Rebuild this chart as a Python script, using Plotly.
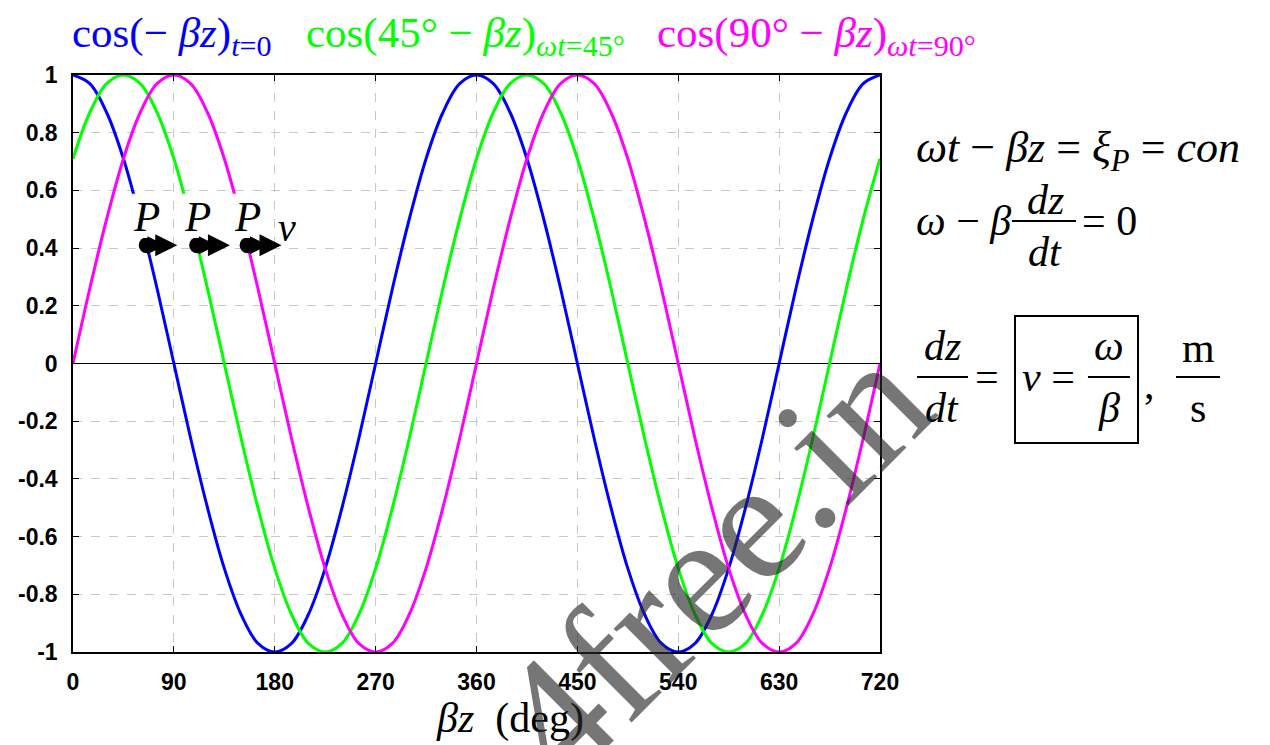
import plotly.graph_objects as go

# ---------------- data ----------------
bz_deg = [0, 15, 30, 45, 60, 75, 90, 105, 120, 135, 150, 165, 180, 195, 210, 225, 240, 255,
          270, 285, 300, 315, 330, 345, 360, 375, 390, 405, 420, 435, 450, 465, 480, 495,
          510, 525, 540, 555, 570, 585, 600, 615, 630, 645, 660, 675, 690, 705, 720]

wave_t0 = [1.00, 0.97, 0.87, 0.71, 0.50, 0.26, 0.00, -0.26, -0.50, -0.71, -0.87, -0.97,
           -1.00, -0.97, -0.87, -0.71, -0.50, -0.26, 0.00, 0.26, 0.50, 0.71, 0.87, 0.97,
           1.00, 0.97, 0.87, 0.71, 0.50, 0.26, 0.00, -0.26, -0.50, -0.71, -0.87, -0.97,
           -1.00, -0.97, -0.87, -0.71, -0.50, -0.26, 0.00, 0.26, 0.50, 0.71, 0.87, 0.97, 1.00]

wave_t45 = [0.71, 0.87, 0.97, 1.00, 0.97, 0.87, 0.71, 0.50, 0.26, 0.00, -0.26, -0.50,
            -0.71, -0.87, -0.97, -1.00, -0.97, -0.87, -0.71, -0.50, -0.26, 0.00, 0.26, 0.50,
            0.71, 0.87, 0.97, 1.00, 0.97, 0.87, 0.71, 0.50, 0.26, 0.00, -0.26, -0.50,
            -0.71, -0.87, -0.97, -1.00, -0.97, -0.87, -0.71, -0.50, -0.26, 0.00, 0.26, 0.50, 0.71]

wave_t90 = [0.00, 0.26, 0.50, 0.71, 0.87, 0.97, 1.00, 0.97, 0.87, 0.71, 0.50, 0.26,
            0.00, -0.26, -0.50, -0.71, -0.87, -0.97, -1.00, -0.97, -0.87, -0.71, -0.50, -0.26,
            0.00, 0.26, 0.50, 0.71, 0.87, 0.97, 1.00, 0.97, 0.87, 0.71, 0.50, 0.26,
            0.00, -0.26, -0.50, -0.71, -0.87, -0.97, -1.00, -0.97, -0.87, -0.71, -0.50, -0.26, 0.00]

# constant-phase point P on each wave and where its arrow points
p_x = [65.8, 110.8, 155.8]
p_y = [0.41, 0.41, 0.41]
p_arrow_end = [93, 140, 186]

x_tickvals = [0, 90, 180, 270, 360, 450, 540, 630, 720]
x_ticktext = ["0", "90", "180", "270", "360", "450", "540", "630", "720"]
y_tickvals = [-1, -0.8, -0.6, -0.4, -0.2, 0, 0.2, 0.4, 0.6, 0.8, 1]
y_ticktext = ["-1", "-0.8", "-0.6", "-0.4", "-0.2", "0", "0.2", "0.4", "0.6", "0.8", "1"]

# ---------------- layout geometry ----------------
OFF = 8                      # page body margin
W, H = 1270 - OFF, 745 - OFF
L, R, T, B = 65, 390, 67, 93
PW, PH = W - L - R, H - T - B


def px(x):                   # screen x -> paper
    return (x - OFF - L) / PW


def py(y):                   # screen y -> paper
    return (H - B - (y - OFF)) / PH


SERIF = "Liberation Serif, Times New Roman, serif"
TICKFONT = dict(family="Liberation Sans, Arial", size=23, color="black", weight="bold")
NB = "\u00a0"   # non-breaking space

BLUE, GREEN, MAGENTA = "#0000ff", "#00ff00", "#ff00ff"

fig = go.Figure()
for ys, col in [(wave_t0, BLUE), (wave_t45, GREEN), (wave_t90, MAGENTA)]:
    fig.add_trace(go.Scatter(x=bz_deg, y=ys, mode="lines",
                             line=dict(color=col, width=3, shape="spline", smoothing=1.0),
                             showlegend=False, hoverinfo="skip"))

fig.add_trace(go.Scatter(x=p_x, y=p_y, mode="markers",
                         marker=dict(color="black", size=16), showlegend=False,
                         hoverinfo="skip", cliponaxis=False))

shapes = []
annotations = []

# white boxes behind the P labels (cover the curves there)
for xc in p_x:
    shapes.append(dict(type="rect", xref="x", yref="y", x0=xc - 13, x1=xc + 13,
                       y0=0.435, y1=0.588, fillcolor="white", line=dict(width=0),
                       layer="above"))

for xc, yc, xe in zip(p_x, p_y, p_arrow_end):
    annotations.append(dict(x=xc, y=yc + 0.1, xref="x", yref="y", text="<i>P</i>",
                            showarrow=False, font=dict(family=SERIF, size=43, color="black"),
                            xanchor="center", yanchor="middle"))
    annotations.append(dict(x=xe, y=yc, ax=xc, ay=yc, xref="x", yref="y", axref="x", ayref="y",
                            text="", showarrow=True, arrowhead=2, arrowsize=1.1,
                            arrowwidth=4, arrowcolor="black"))
    annotations.append(dict(x=(xc + xe) / 2 + 3, y=yc, ax=xc, ay=yc, xref="x", yref="y",
                            axref="x", ayref="y", text="", showarrow=True, arrowhead=2,
                            arrowsize=0.9, arrowwidth=4, arrowcolor="black"))

annotations.append(dict(x=p_arrow_end[-1] + 5, y=0.47, xref="x", yref="y", text="<i>v</i>",
                        showarrow=False, font=dict(family=SERIF, size=40, color="black"),
                        xanchor="center", yanchor="middle"))

# ------------- top title pieces -------------
title_font = dict(family=SERIF, size=43)
annotations += [
    dict(x=px(70), y=py(36), xref="paper", yref="paper", xanchor="left", yanchor="middle",
         showarrow=False, font=dict(title_font, color=BLUE),
         text="cos(− <i>βz</i>)<sub><i>t</i>=0</sub>"),
    dict(x=px(304), y=py(36), xref="paper", yref="paper", xanchor="left", yanchor="middle",
         showarrow=False, font=dict(title_font, color=GREEN),
         text="cos(45° − <i>βz</i>)<sub><i>ωt</i>=45°</sub>"),
    dict(x=px(655), y=py(36), xref="paper", yref="paper", xanchor="left", yanchor="middle",
         showarrow=False, font=dict(title_font, color=MAGENTA),
         text="cos(90° − <i>βz</i>)<sub><i>ωt</i>=90°</sub>"),
]

# ------------- x axis title -------------
annotations.append(dict(x=px(510), y=py(718), xref="paper", yref="paper", showarrow=False,
                        xanchor="center", yanchor="middle",
                        font=dict(family=SERIF, size=42, color="black"),
                        text="<i>βz</i>  (deg)"))

# ------------- right-hand equations -------------
eq_font = dict(family=SERIF, size=42, color="black")


def txt(x, y, s, anchor="left", size=42):
    annotations.append(dict(x=px(x), y=py(y), xref="paper", yref="paper", showarrow=False,
                            xanchor=anchor, yanchor="middle",
                            font=dict(eq_font, size=size), text=s))


def hline(x0, x1, y, w=2):
    shapes.append(dict(type="line", xref="paper", yref="paper", x0=px(x0), x1=px(x1),
                       y0=py(y), y1=py(y), line=dict(color="black", width=w)))


txt(914, 150, f"<i>ωt</i>{NB}−{NB}<i>βz</i>{NB}={NB}<i>ξ<sub>P</sub></i>{NB}={NB}<i>con</i>",
    size=44)
txt(914, 221, "<i>ω</i> − <i>β</i>")
txt(1045, 200, "<i>dz</i>", "center")
hline(1012, 1076, 221)
txt(1045, 252, "<i>dt</i>", "center")
txt(1080, 221, "= 0")

txt(942, 346, "<i>dz</i>", "center")
hline(917, 968, 377)
txt(942, 408, "<i>dt</i>", "center")
txt(973, 377, "=")
shapes.append(dict(type="rect", xref="paper", yref="paper", x0=px(1015), x1=px(1138),
                   y0=py(316), y1=py(443), line=dict(color="black", width=2)))
txt(1020, 377, "<i>v</i> =")
txt(1109, 346, "<i>ω</i>", "center")
hline(1088, 1130, 377)
txt(1109, 408, "<i>β</i>", "center")
txt(1142, 384, ",")
txt(1198, 348, "m", "center")
hline(1176, 1220, 377)
txt(1198, 408, "s", "center")

# ------------- watermark -------------
annotations.append(dict(x=px(712), y=py(560), xref="paper", yref="paper", showarrow=False,
                        xanchor="center", yanchor="middle", textangle=-45,
                        font=dict(family=SERIF, size=172, color="rgba(40,40,40,0.64)"),
                        text="4free.in"))

fig.update_layout(
    width=W, height=H,
    margin=dict(l=L, r=R, t=T, b=B, autoexpand=False),
    paper_bgcolor="white", plot_bgcolor="white",
    shapes=shapes, annotations=annotations,
    xaxis=dict(range=[0, 720], tickvals=x_tickvals, ticktext=x_ticktext,
               showgrid=True, gridcolor="#c8c8c8", griddash="dash", gridwidth=1,
               showline=True, linecolor="black", linewidth=1.5, mirror="ticks",
               ticks="inside", ticklen=6, tickcolor="black", tickfont=TICKFONT,
               ticklabelstandoff=9, zeroline=False),
    yaxis=dict(range=[-1, 1], tickvals=y_tickvals, ticktext=y_ticktext,
               showgrid=True, gridcolor="#c8c8c8", griddash="dash", gridwidth=1,
               showline=True, linecolor="black", linewidth=1.5, mirror="ticks",
               ticks="inside", ticklen=6, tickcolor="black", tickfont=TICKFONT,
               ticklabelstandoff=9,
               zeroline=True, zerolinecolor="black", zerolinewidth=1),
)

fig.write_html("out.html")
